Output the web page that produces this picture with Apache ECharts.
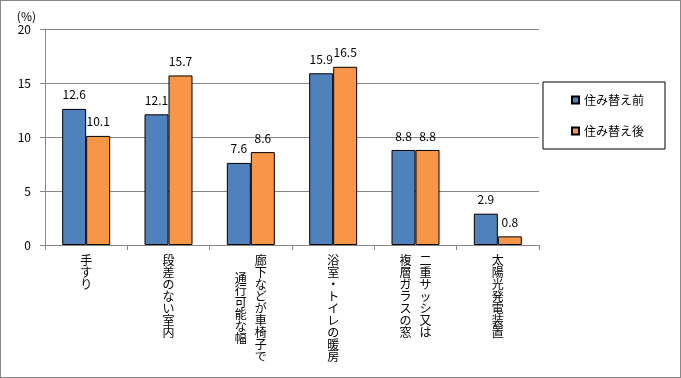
<!DOCTYPE html>
<html><head><meta charset="utf-8">
<script src="https://cdn.jsdelivr.net/npm/echarts@6/dist/echarts.min.js"></script>
<style>html,body{margin:0;padding:0;background:#fff}#c{width:681px;height:378px;box-sizing:border-box;border:1px solid #888}</style>
</head><body><div id="c"></div>
<script>
const categories = ['手すり','段差のない室内','廊下などが車椅子で通行可能な幅','浴室・トイレの暖房','二重サッシ又は複層ガラスの窓','太陽光発電装置'];
const labelRightCol = ['手すり','段差のない室内','廊下などが車椅子で','浴室・トイレの暖房','二重サッシ又は','太陽光発電装置'];
const labelLeftCol = ['','','通行可能な幅','','複層ガラスの窓',''];
const seriesNames = ['住み替え前','住み替え後'];
const before = [12.6, 12.1, 7.6, 15.9, 8.8, 2.9];
const after = [10.1, 15.7, 8.6, 16.5, 8.8, 0.8];
const yTicks = [0, 5, 10, 15, 20];

const FONT = '"Noto Sans CJK JP", "Noto Sans", sans-serif';
const LH = 12;
function vert(s){ return Array.from(s).join('\n'); }

const chart = echarts.init(document.getElementById('c'));
chart.setOption({
  animation: false,
  textStyle: {fontFamily: FONT, color: '#000'},
  grid: {left: 44, right: 141, top: 28, bottom: 132},
  legend: {
    orient: 'vertical', right: 15, top: 81,
    data: seriesNames,
    icon: 'rect',
    itemWidth: 7, itemHeight: 7, itemGap: 19,
    padding: [12, 21, 12, 28],
    borderColor: '#000', borderWidth: 1,
    textStyle: {fontSize: 12, fontFamily: FONT, color: '#000'}
  },
  xAxis: [{
    type: 'category', data: categories,
    axisLine: {lineStyle: {color: '#868686'}},
    axisTick: {show: true, length: 5, lineStyle: {color: '#868686'}},
    axisLabel: {
      interval: 0, margin: 9, color: '#000', fontSize: 12, fontFamily: FONT,
      formatter: function(v, i){
        const two = labelLeftCol[i] !== '';
        return two ? '{r|' + vert(labelRightCol[i]) + '}' : '{s|' + vert(labelRightCol[i]) + '}';
      },
      rich: {
        s: {lineHeight: LH, fontSize: 12, fontFamily: FONT, color: '#000'},
        r: {lineHeight: LH, fontSize: 12, fontFamily: FONT, color: '#000', padding: [0, 0, 0, 20]}
      }
    }
  }, {
    type: 'category', data: categories, position: 'bottom',
    axisLine: {show: false}, axisTick: {show: false}, splitLine: {show: false},
    axisLabel: {
      interval: 0, margin: 9, color: '#000', fontSize: 12, fontFamily: FONT,
      formatter: function(v, i){
        const l = labelLeftCol[i];
        if (!l) return '';
        const nR = Array.from(labelRightCol[i]).length, nL = Array.from(l).length;
        const off = (nR - nL) / 2 * LH;
        let s = '';
        if (off > 0) s = '{g| }\n';
        return s + '{l|' + vert(l) + '}';
      },
      rich: {
        g: {lineHeight: 18, fontSize: 1, height: 18},
        l: {lineHeight: LH, fontSize: 12, fontFamily: FONT, color: '#000', padding: [0, 20, 0, 0]}
      }
    }
  }],
  yAxis: {
    type: 'value', min: yTicks[0], max: yTicks[yTicks.length - 1], interval: 5,
    name: '(%)', nameLocation: 'end', nameGap: 7,
    nameTextStyle: {fontSize: 12, fontFamily: FONT, color: '#000', align: 'right', padding: [0, 9, 0, 0]},
    axisLine: {show: true, lineStyle: {color: '#868686'}},
    axisTick: {show: true, length: 5, lineStyle: {color: '#868686'}},
    axisLabel: {fontSize: 12, fontFamily: FONT, color: '#000', margin: 14},
    splitLine: {lineStyle: {color: '#868686'}}
  },
  series: [{
    name: seriesNames[0], type: 'bar', data: before, barWidth: 24, barGap: '0%',
    itemStyle: {color: '#4f81bd', borderColor: '#000', borderWidth: 1},
    label: {show: true, position: 'top', distance: 8, fontSize: 12, fontFamily: FONT, color: '#000'}
  }, {
    name: seriesNames[1], type: 'bar', data: after, barWidth: 24, barGap: '0%',
    itemStyle: {color: '#f79646', borderColor: '#000', borderWidth: 1},
    label: {show: true, position: 'top', distance: 8, fontSize: 12, fontFamily: FONT, color: '#000'}
  }]
});
</script></body></html>
